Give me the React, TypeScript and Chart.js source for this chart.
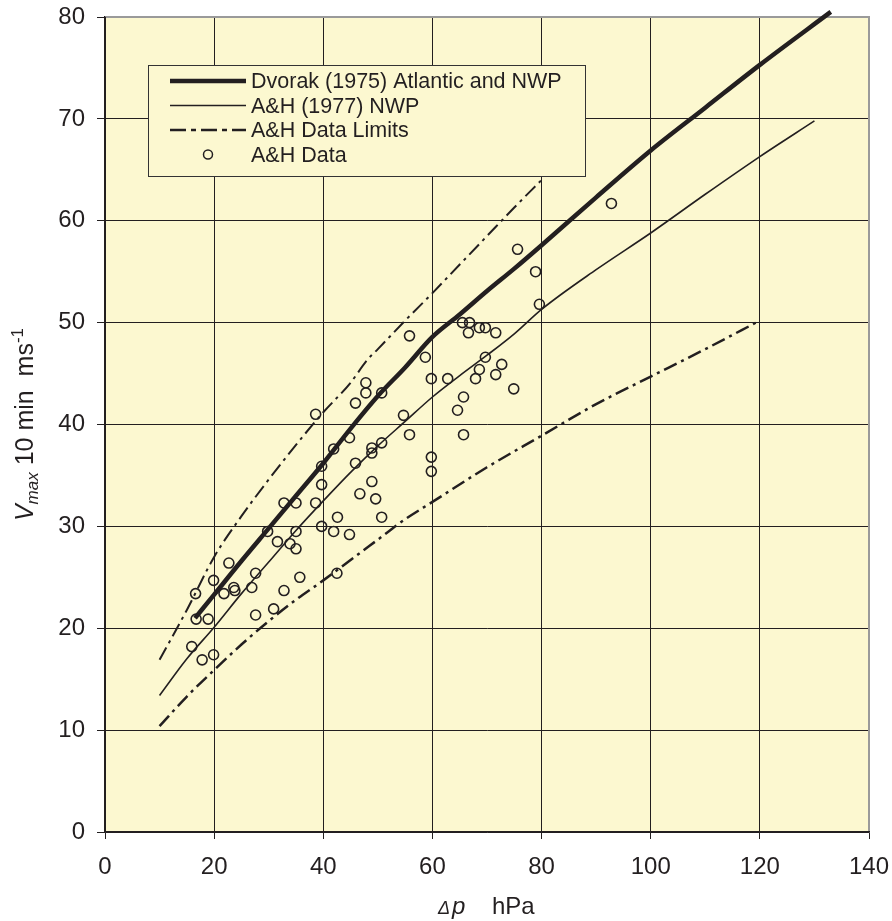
import React, { useEffect, useRef } from 'react';
import { Chart, registerables } from 'chart.js';

Chart.register(...registerables);

// ---------- data ----------
const X_MIN = 0;
const X_MAX = 140;
const X_STEP = 20;
const Y_MIN = 0;
const Y_MAX = 80;
const Y_STEP = 10;

const DVORAK_DP = [16.5, 20, 25, 30, 35, 40, 45, 50, 55, 60, 65, 70, 75, 80, 90, 100, 110, 120, 133];
const DVORAK_V = [21.0, 23.3, 26.6, 29.8, 33.0, 36.2, 39.6, 42.8, 45.6, 48.6, 50.8, 53.1, 55.3, 57.6, 62.3, 66.9, 71.1, 75.3, 80.5];

const AH_DP = [10, 15, 20, 25, 30, 35, 40, 45, 50, 55, 60, 65, 70, 75, 80, 90, 100, 110, 120, 130];
const AH_V = [13.4, 17.0, 20.1, 23.4, 26.5, 29.6, 32.5, 35.3, 37.9, 40.3, 42.7, 44.8, 46.8, 48.9, 51.3, 55.2, 58.8, 62.6, 66.3, 69.8];

const UPPER_DP = [10, 15, 20, 25, 30, 35, 40, 45, 48, 50, 55, 60, 65, 70, 75, 80];
const UPPER_V = [16.9, 21.8, 27.0, 31.0, 34.6, 38.0, 41.2, 44.1, 46.3, 47.4, 50.2, 52.9, 55.7, 58.5, 61.3, 64.0];

const LOWER_DP = [10, 15, 20, 25, 30, 35, 40, 45, 50, 55, 60, 70, 80, 90, 100, 110, 120];
const LOWER_V = [10.4, 13.3, 15.9, 18.4, 20.7, 22.8, 24.7, 26.7, 28.7, 30.7, 32.4, 35.8, 38.9, 42.0, 44.7, 47.4, 50.2];

const DATA_DP = [15.9, 16.6, 16.7, 17.8, 18.9, 19.9, 19.9, 21.8, 22.7, 23.6, 23.8, 26.9, 27.6, 27.6, 29.8, 30.9, 31.6, 32.8, 32.8, 33.9, 35.0, 35.0, 35.0, 35.7, 38.6, 38.6, 39.7, 39.7, 39.7, 41.9, 41.9, 42.5, 42.6, 44.8, 44.8, 45.9, 45.9, 46.7, 47.8, 47.8, 48.9, 48.9, 48.9, 49.6, 50.7, 50.7, 50.7, 54.7, 55.8, 55.8, 58.7, 59.8, 59.8, 59.8, 62.8, 64.6, 65.5, 65.7, 65.7, 66.6, 66.8, 67.9, 68.6, 68.6, 69.7, 69.7, 71.6, 71.6, 72.7, 74.9, 75.6, 78.9, 79.6, 92.8];
const DATA_V = [18.2, 23.4, 20.9, 16.9, 20.9, 17.4, 24.7, 23.4, 26.4, 24.0, 23.7, 24.0, 25.4, 21.3, 29.5, 21.9, 28.5, 23.7, 32.3, 28.3, 27.8, 29.5, 32.3, 25.0, 41.0, 32.3, 35.9, 34.1, 30.0, 37.6, 29.5, 25.4, 30.9, 38.7, 29.2, 42.1, 36.2, 33.2, 44.1, 43.1, 37.7, 37.2, 34.4, 32.7, 43.1, 38.2, 30.9, 40.9, 48.7, 39.0, 46.6, 44.5, 36.8, 35.4, 44.5, 41.4, 50.0, 42.7, 39.0, 49.0, 50.0, 44.5, 49.5, 45.4, 49.5, 46.6, 49.0, 44.9, 45.9, 43.5, 57.2, 55.0, 51.8, 61.7];

const LEGEND_LABELS = ['Dvorak (1975) Atlantic and NWP', 'A&H (1977) NWP', 'A&H Data Limits', 'A&H Data'];

// ---------- styles ----------
const FONT = '"Liberation Sans", Arial, Helvetica, sans-serif';
const INK = '#231F20';
const BG = '#FCF8D0';
const FRAME = '#9A9A9A';
const DASHDOT = [14, 5, 3, 5];

const pts = (xs: number[], ys: number[]) => xs.map((x, i) => ({ x, y: ys[i] }));

const paperPlugin = {
  id: 'paper',
  beforeDraw(chart: any) {
    const { ctx, chartArea: a } = chart;
    ctx.save();
    ctx.fillStyle = BG;
    ctx.fillRect(a.left, a.top, a.right - a.left, a.bottom - a.top);
    ctx.restore();
  },
  beforeDatasetsDraw(chart: any) {
    const { ctx, chartArea: a } = chart;
    ctx.save();
    ctx.strokeStyle = FRAME;
    ctx.lineWidth = 2;
    ctx.beginPath();
    ctx.moveTo(a.left + 1, a.top);
    ctx.lineTo(a.right, a.top);
    ctx.lineTo(a.right, a.bottom - 1);
    ctx.stroke();
    ctx.restore();
  },
  afterDraw(chart: any) {
    const { ctx, chartArea: a } = chart;
    ctx.save();

    // ----- legend box -----
    const bx = a.left + 43, by = a.top + 48, bw = 437, bh = 111;
    ctx.fillStyle = BG;
    ctx.fillRect(bx, by, bw, bh);
    ctx.strokeStyle = '#333';
    ctx.lineWidth = 1;
    ctx.strokeRect(bx + 0.5, by + 0.5, bw, bh);

    const sx0 = bx + 22, sx1 = bx + 98, tx = bx + 103;
    const rows = [by + 16, by + 40.5, by + 65, by + 89.5];
    ctx.fillStyle = INK;
    ctx.strokeStyle = INK;
    ctx.font = `21.5px ${FONT}`;
    ctx.textBaseline = 'alphabetic';
    ctx.textAlign = 'left';
    rows.forEach((ry, i) => {
      ctx.save();
      ctx.lineCap = 'butt';
      if (i === 0) {
        ctx.lineWidth = 4.5;
        ctx.beginPath(); ctx.moveTo(sx0, ry); ctx.lineTo(sx1, ry); ctx.stroke();
      } else if (i === 1) {
        ctx.lineWidth = 1.6;
        ctx.beginPath(); ctx.moveTo(sx0, ry); ctx.lineTo(sx1, ry); ctx.stroke();
      } else if (i === 2) {
        ctx.lineWidth = 2.6;
        ctx.setLineDash([16, 5, 5, 5]);
        ctx.beginPath(); ctx.moveTo(sx0, ry); ctx.lineTo(sx1, ry); ctx.stroke();
      } else {
        ctx.lineWidth = 1.5;
        ctx.beginPath(); ctx.arc((sx0 + sx1) / 2, ry, 4.5, 0, Math.PI * 2); ctx.stroke();
      }
      ctx.restore();
      ctx.fillText(LEGEND_LABELS[i], tx, ry + 7);
    });

    // ----- y axis title -----
    const cy = (a.top + a.bottom) / 2;
    const parts = [
      { t: 'V', f: `italic 25px ${FONT}`, dy: 0 },
      { t: 'max', f: `italic 17px ${FONT}`, dy: 5 },
      { t: ' 10 min  ms', f: `25px ${FONT}`, dy: 0 },
      { t: '-1', f: `17px ${FONT}`, dy: -10 },
    ];
    let total = 0;
    parts.forEach(p => { ctx.font = p.f; total += ctx.measureText(p.t).width; });
    ctx.translate(33, cy);
    ctx.rotate(-Math.PI / 2);
    let px = -total / 2;
    parts.forEach(p => {
      ctx.font = p.f;
      ctx.fillText(p.t, px, p.dy);
      px += ctx.measureText(p.t).width;
    });
    ctx.setTransform(1, 0, 0, 1, 0, 0);

    // ----- x axis title -----
    const cx = (a.left + a.right) / 2;
    const base = 914;
    ctx.font = `italic 18px ${FONT}`;
    ctx.fillText('\u0394', cx - 49, base);
    const dw = ctx.measureText('\u0394').width;
    ctx.font = `italic 24px ${FONT}`;
    ctx.fillText('p', cx - 49 + dw + 2, base);
    ctx.font = `24px ${FONT}`;
    ctx.fillText('hPa', cx + 5, base);

    ctx.restore();
  },
};

export default function App() {
  const ref = useRef<HTMLCanvasElement | null>(null);

  useEffect(() => {
    if (!ref.current) return;
    const lineBase = {
      showLine: true,
      pointRadius: 0,
      pointHoverRadius: 0,
      borderColor: INK,
      backgroundColor: INK,
      cubicInterpolationMode: 'monotone' as const,
      borderCapStyle: 'butt' as const,
      fill: false,
    };
    const chart = new Chart(ref.current, {
      type: 'scatter',
      data: {
        datasets: [
          {
            label: LEGEND_LABELS[3],
            data: pts(DATA_DP, DATA_V),
            pointStyle: 'circle',
            pointRadius: 5,
            pointBorderWidth: 1.6,
            pointBorderColor: INK,
            pointBackgroundColor: 'rgba(0,0,0,0)',
            showLine: false,
          } as any,
          {
            ...lineBase,
            label: LEGEND_LABELS[0],
            data: pts(DVORAK_DP, DVORAK_V),
            borderWidth: 4.5,
            clip: { left: 0, top: 10, right: 0, bottom: 0 },
          } as any,
          {
            ...lineBase,
            label: LEGEND_LABELS[1],
            data: pts(AH_DP, AH_V),
            borderWidth: 1.6,
          } as any,
          {
            ...lineBase,
            label: LEGEND_LABELS[2],
            data: pts(UPPER_DP, UPPER_V),
            borderWidth: 2,
            borderDash: DASHDOT,
          } as any,
          {
            ...lineBase,
            label: LEGEND_LABELS[2] + ' (lower)',
            data: pts(LOWER_DP, LOWER_V),
            borderWidth: 2.5,
            borderDash: DASHDOT,
          } as any,
        ],
      },
      options: {
        responsive: false,
        animation: false,
        devicePixelRatio: 1,
        layout: { padding: { top: 17, right: 23, left: 0, bottom: 0 } },
        plugins: {
          legend: { display: false },
          tooltip: { enabled: false },
        },
        scales: {
          x: {
            type: 'linear',
            min: X_MIN,
            max: X_MAX,
            ticks: {
              stepSize: X_STEP,
              color: INK,
              padding: 14,
              font: { size: 24, family: FONT },
            },
            grid: { color: INK, lineWidth: 1, tickLength: 7 },
            border: { color: INK, width: 1.5 },
            afterFit: (s: any) => {
              s.height = 89;
              s.paddingLeft = 0; s.paddingRight = 0; s.paddingTop = 0; s.paddingBottom = 0;
            },
          },
          y: {
            type: 'linear',
            min: Y_MIN,
            max: Y_MAX,
            ticks: {
              stepSize: Y_STEP,
              color: INK,
              padding: 12,
              font: { size: 24, family: FONT },
            },
            grid: { color: INK, lineWidth: 1, tickLength: 8 },
            border: { color: INK, width: 1.5 },
            afterFit: (s: any) => {
              s.width = 105;
              s.paddingLeft = 0; s.paddingRight = 0; s.paddingTop = 0; s.paddingBottom = 0;
            },
          },
        },
      } as any,
      plugins: [paperPlugin],
    });
    return () => chart.destroy();
  }, []);

  return (
    <div style={{ position: 'absolute', left: 0, top: 0, width: 892, height: 921, background: '#fff' }}>
      <canvas ref={ref} width={892} height={921} style={{ display: 'block' }} />
    </div>
  );
}
